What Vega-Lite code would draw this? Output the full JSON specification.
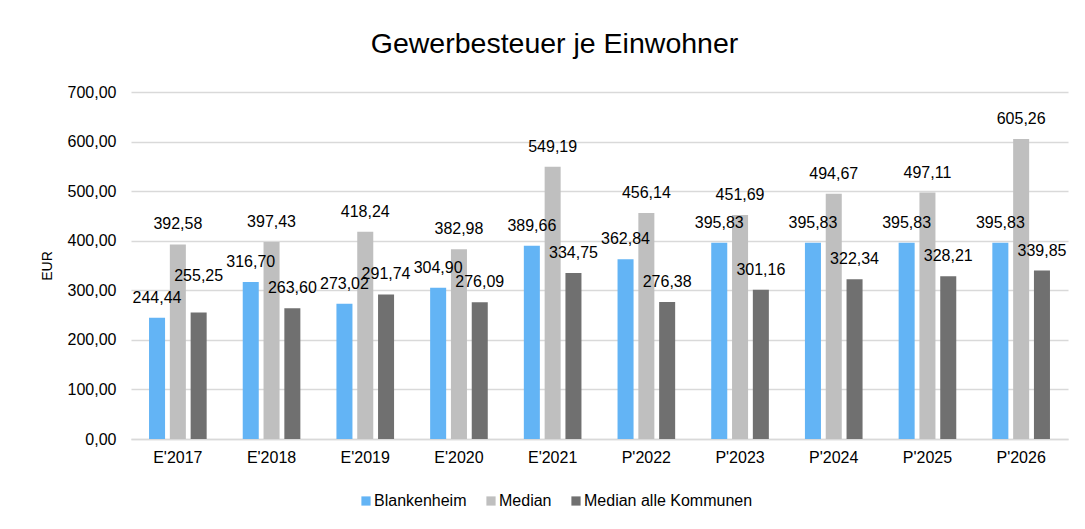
{
  "$schema": "https://vega.github.io/schema/vega-lite/v6.json",
  "width": 937,
  "height": 347,
  "autosize": "none",
  "padding": {"left": 131, "top": 92, "right": 17, "bottom": 90},
  "background": "white",
  "title": {
    "text": "Gewerbesteuer je Einwohner",
    "font": "Liberation Sans",
    "fontSize": 28.5,
    "fontWeight": "normal",
    "color": "#000000",
    "anchor": "middle",
    "frame": "group",
    "dx": -45,
    "baseline": "alphabetic",
    "offset": 3
  },
  "config": {
    "locale": {"number": {"decimal": ",", "thousands": ".", "grouping": [3], "currency": ["", " €"]}},
    "view": {"stroke": null},
    "font": "Liberation Sans"
  },
  "data": {
    "values": [
      {"jahr": "E'2017", "serie": "Blankenheim", "wert": 244.44},
      {"jahr": "E'2017", "serie": "Median", "wert": 392.58},
      {"jahr": "E'2017", "serie": "Median alle Kommunen", "wert": 255.25},
      {"jahr": "E'2018", "serie": "Blankenheim", "wert": 316.70},
      {"jahr": "E'2018", "serie": "Median", "wert": 397.43},
      {"jahr": "E'2018", "serie": "Median alle Kommunen", "wert": 263.60},
      {"jahr": "E'2019", "serie": "Blankenheim", "wert": 273.02},
      {"jahr": "E'2019", "serie": "Median", "wert": 418.24},
      {"jahr": "E'2019", "serie": "Median alle Kommunen", "wert": 291.74},
      {"jahr": "E'2020", "serie": "Blankenheim", "wert": 304.90},
      {"jahr": "E'2020", "serie": "Median", "wert": 382.98},
      {"jahr": "E'2020", "serie": "Median alle Kommunen", "wert": 276.09},
      {"jahr": "E'2021", "serie": "Blankenheim", "wert": 389.66},
      {"jahr": "E'2021", "serie": "Median", "wert": 549.19},
      {"jahr": "E'2021", "serie": "Median alle Kommunen", "wert": 334.75},
      {"jahr": "P'2022", "serie": "Blankenheim", "wert": 362.84},
      {"jahr": "P'2022", "serie": "Median", "wert": 456.14},
      {"jahr": "P'2022", "serie": "Median alle Kommunen", "wert": 276.38},
      {"jahr": "P'2023", "serie": "Blankenheim", "wert": 395.83},
      {"jahr": "P'2023", "serie": "Median", "wert": 451.69},
      {"jahr": "P'2023", "serie": "Median alle Kommunen", "wert": 301.16},
      {"jahr": "P'2024", "serie": "Blankenheim", "wert": 395.83},
      {"jahr": "P'2024", "serie": "Median", "wert": 494.67},
      {"jahr": "P'2024", "serie": "Median alle Kommunen", "wert": 322.34},
      {"jahr": "P'2025", "serie": "Blankenheim", "wert": 395.83},
      {"jahr": "P'2025", "serie": "Median", "wert": 497.11},
      {"jahr": "P'2025", "serie": "Median alle Kommunen", "wert": 328.21},
      {"jahr": "P'2026", "serie": "Blankenheim", "wert": 395.83},
      {"jahr": "P'2026", "serie": "Median", "wert": 605.26},
      {"jahr": "P'2026", "serie": "Median alle Kommunen", "wert": 339.85}
    ]
  },
  "encoding": {
    "x": {
      "field": "jahr",
      "type": "nominal",
      "sort": null,
      "scale": {"paddingInner": 0.385, "paddingOuter": 0.1925},
      "axis": {
        "title": null,
        "labelAngle": 0,
        "ticks": false,
        "domain": true,
        "domainColor": "#D9D9D9",
        "domainWidth": 1.5,
        "labelFont": "Liberation Sans",
        "labelFontSize": 16,
        "labelColor": "#000000",
        "labelPadding": 10
      }
    },
    "xOffset": {
      "field": "serie",
      "type": "nominal",
      "sort": ["Blankenheim", "Median", "Median alle Kommunen"],
      "scale": {"paddingInner": 0.23, "paddingOuter": 0}
    },
    "y": {
      "field": "wert",
      "type": "quantitative",
      "scale": {"domain": [0, 700], "nice": false},
      "axis": {
        "title": "EUR",
        "titleFont": "Liberation Sans",
        "titleFontSize": 14,
        "titleFontWeight": "normal",
        "titleColor": "#000000",
        "titlePadding": 13,
        "values": [0, 100, 200, 300, 400, 500, 600, 700],
        "format": ".2f",
        "ticks": false,
        "domain": false,
        "grid": true,
        "gridColor": "#D9D9D9",
        "gridWidth": 1.5,
        "labelFont": "Liberation Sans",
        "labelFontSize": 16,
        "labelColor": "#000000",
        "labelPadding": 15
      }
    }
  },
  "layer": [
    {
      "mark": {"type": "bar"},
      "encoding": {
        "color": {
          "field": "serie",
          "type": "nominal",
          "scale": {
            "domain": ["Blankenheim", "Median", "Median alle Kommunen"],
            "range": ["#63B4F5", "#BFBFBF", "#707070"]
          },
          "legend": {
            "title": null,
            "orient": "none",
            "direction": "horizontal",
            "legendX": 227,
            "legendY": 401,
            "symbolType": "square",
            "symbolSize": 85,
            "symbolStrokeWidth": 0,
            "labelFont": "Liberation Sans",
            "labelFontSize": 16,
            "labelColor": "#000000",
            "labelOffset": 0,
            "labelLimit": 0,
            "columnPadding": 16
          }
        }
      }
    },
    {
      "transform": [
        {"filter": "!(datum.jahr === \"E'2017\" && datum.serie === 'Median alle Kommunen')"}
      ],
      "mark": {
        "type": "text",
        "baseline": "alphabetic",
        "align": "center",
        "dy": -15,
        "font": "Liberation Sans",
        "fontSize": 16,
        "color": "#000000"
      },
      "encoding": {
        "text": {"field": "wert", "type": "quantitative", "format": ".2f"}
      }
    },
    {
      "transform": [
        {"filter": "datum.jahr === \"E'2017\" && datum.serie === 'Median alle Kommunen'"}
      ],
      "mark": {
        "type": "text",
        "baseline": "alphabetic",
        "align": "center",
        "dy": -31,
        "font": "Liberation Sans",
        "fontSize": 16,
        "color": "#000000"
      },
      "encoding": {
        "text": {"field": "wert", "type": "quantitative", "format": ".2f"}
      }
    }
  ]
}
